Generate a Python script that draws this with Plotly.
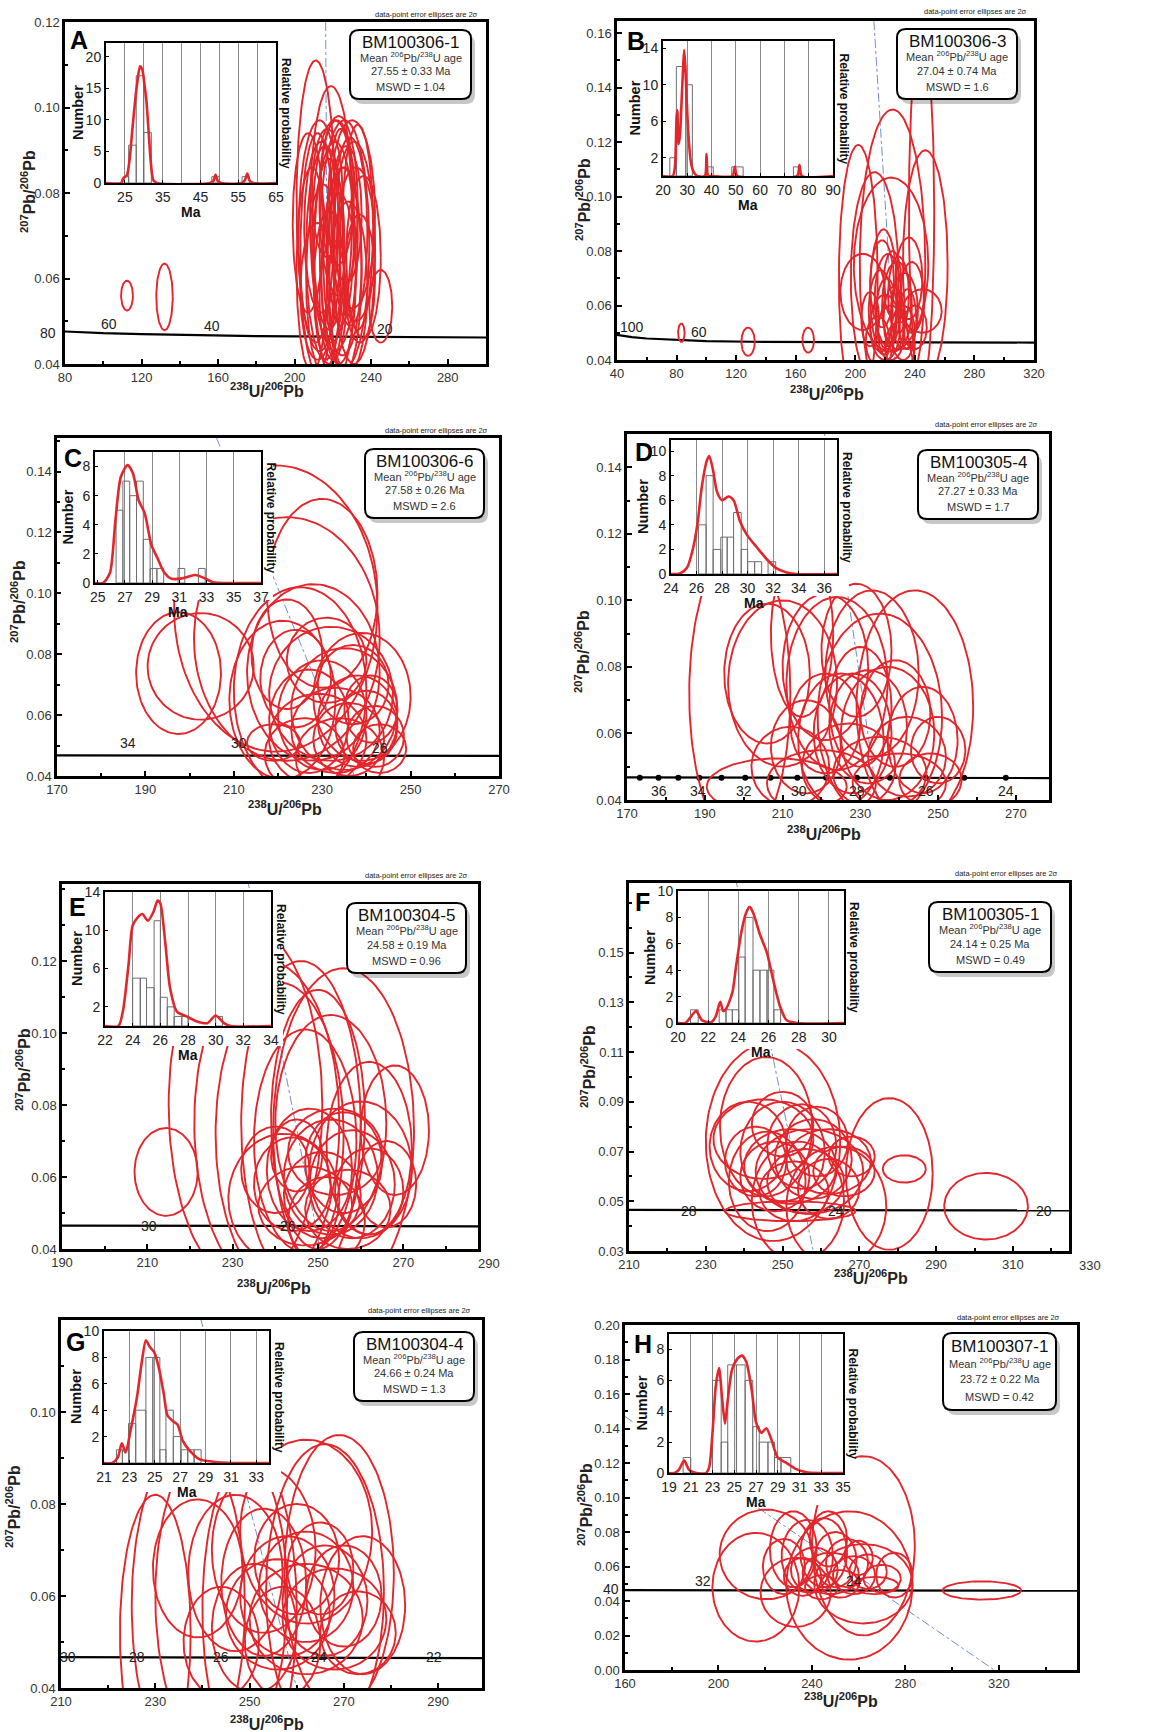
import numpy as np
import plotly.graph_objects as go

W, H = 1159, 1732

# ================= DATA =================
# ---- Panel A : BM100306-1 ----
A_cx = [211, 219, 213, 221, 226, 216, 231, 225, 232, 209, 223, 218, 228, 214, 222, 227, 212, 234, 220, 224, 217, 230, 245, 207, 236, 218, 226, 221, 215, 229, 223, 212, 233, 112.4, 132]
A_cy = [0.078, 0.075, 0.070, 0.070, 0.068, 0.066, 0.066, 0.064, 0.068, 0.062, 0.060, 0.058, 0.058, 0.072, 0.080, 0.075, 0.057, 0.060, 0.055, 0.072, 0.080, 0.075, 0.0535, 0.073, 0.065, 0.068, 0.062, 0.064, 0.060, 0.071, 0.077, 0.066, 0.072, 0.0560, 0.0557]
A_rx = [10, 11, 11, 12, 13, 10, 11, 10, 10, 8, 9, 8, 10, 9, 9, 8, 9, 8, 7, 7, 8, 12, 6, 8, 9, 8, 9, 11, 9, 9, 10, 9, 8, 3.1, 4.3]
A_ry = [0.033, 0.030, 0.027, 0.027, 0.029, 0.025, 0.026, 0.022, 0.018, 0.024, 0.020, 0.018, 0.020, 0.020, 0.017, 0.016, 0.016, 0.015, 0.014, 0.023, 0.015, 0.022, 0.0085, 0.021, 0.019, 0.020, 0.024, 0.028, 0.022, 0.022, 0.021, 0.028, 0.024, 0.0035, 0.0078]
A_conc_x = [80, 100, 120, 150, 180, 220, 260, 300]
A_conc_y = [0.0476, 0.0472, 0.0470, 0.0467, 0.0465, 0.0464, 0.0463, 0.0462]
A_age_lbl = ["60", "40", "20"]
A_age_x = [103.2, 156.7, 247]
A_age_y = [0.0493, 0.0489, 0.0483]
A_ref_x = [216.2, 217.2]
A_ref_y = [0.12, 0.04]
A_bin_lo = [24.8, 26, 28, 30, 48, 56]
A_bin_hi = [26, 28, 30, 32, 50, 58]
A_bin_n = [1, 6, 17, 8, 1, 1]
A_pdf_x = [20, 24, 24.6, 25.5, 26.3, 26.9, 27.7, 28.3, 29.0, 29.6, 30.1, 30.7, 31.3, 31.9, 32.5, 33.5, 47.5, 48.4, 49.0, 49.6, 50.5, 56.0, 56.8, 57.4, 58.0, 59.0, 65]
A_pdf_y = [0, 0, 0.8, 1.2, 4, 8, 13, 16, 18.5, 18, 16, 13, 8, 3, 0.5, 0, 0, 0.3, 1.3, 0.3, 0, 0, 0.5, 1.5, 0.4, 0, 0]

# ---- Panel B : BM100306-3 ----
B_cx = [83.2, 128, 168.4, 225, 202, 247, 244.5, 213, 224, 219, 205, 245, 222, 228, 233, 217, 238, 226, 220, 232, 240, 215, 225, 230, 210, 236, 221, 229, 235, 218, 224]
B_cy = [0.050, 0.0467, 0.0473, 0.075, 0.070, 0.075, 0.095, 0.070, 0.075, 0.065, 0.065, 0.058, 0.062, 0.060, 0.058, 0.058, 0.063, 0.055, 0.052, 0.050, 0.052, 0.047, 0.068, 0.045, 0.055, 0.070, 0.057, 0.064, 0.055, 0.068, 0.050]
B_rx = [2.2, 4.5, 3.9, 22, 13, 15, 8.5, 16, 25, 9, 15, 13, 9, 10, 9, 8, 8, 7, 10, 8, 8, 8, 6, 10, 6, 9, 7, 7, 6, 8, 9]
B_ry = [0.0034, 0.0052, 0.0046, 0.057, 0.049, 0.042, 0.065, 0.039, 0.032, 0.023, 0.014, 0.008, 0.017, 0.016, 0.014, 0.015, 0.013, 0.012, 0.012, 0.010, 0.008, 0.009, 0.012, 0.009, 0.010, 0.015, 0.013, 0.014, 0.011, 0.016, 0.010]
B_conc_x = [40, 50, 60, 80, 100, 130, 160, 200, 250, 320]
B_conc_y = [0.0492, 0.0484, 0.0479, 0.0473, 0.0469, 0.0467, 0.0466, 0.0465, 0.0465, 0.0464]
B_age_lbl = ["100", "60"]
B_age_x = [50.1, 94.9]
B_age_y = [0.0522, 0.0504]
B_ref_x = [212.5, 226.6]
B_ref_y = [0.1645, 0.04]
B_bin_lo = [22.8, 25.5, 29.4, 38.0, 48.3, 73.7]
B_bin_hi = [25.5, 29.4, 32.1, 40.7, 53.0, 76.4]
B_bin_n = [2, 12, 10, 1, 1, 1]
B_pdf_x = [20, 24, 24.9, 25.6, 25.9, 26.4, 27.0, 27.7, 28.3, 28.7, 29.2, 29.8, 30.6, 31.5, 32.5, 34, 37.2, 37.9, 38.6, 40, 48.6, 49.6, 50.6, 75.2, 76.2, 77.2, 90]
B_pdf_y = [0, 0, 1.0, 6.5, 7.2, 3.5, 4.5, 8.5, 12, 13.8, 12, 8, 4, 1.5, 0.5, 0, 0, 2.4, 0, 0, 0, 1.0, 0, 0, 1.2, 0, 0]

# ---- Panel C : BM100306-6 ----
C_cx = [197.5, 202.5, 219.5, 222, 230, 228, 225, 221, 232, 235, 230, 238, 227, 233, 240, 236, 229, 242, 219, 224, 231, 237, 241, 243, 234, 226, 239, 222]
C_cy = [0.0738, 0.0760, 0.095, 0.085, 0.100, 0.074, 0.068, 0.065, 0.067, 0.062, 0.060, 0.058, 0.058, 0.055, 0.056, 0.052, 0.052, 0.053, 0.051, 0.072, 0.078, 0.070, 0.062, 0.049, 0.046, 0.047, 0.066, 0.080]
C_rx = [9.6, 12, 23, 21, 12.5, 15, 15, 12, 14, 12, 10, 9, 9, 10, 7, 8, 11, 6.5, 6, 8, 9, 8, 6, 6, 10, 9, 11, 8]
C_ry = [0.020, 0.0175, 0.047, 0.040, 0.031, 0.029, 0.034, 0.026, 0.022, 0.020, 0.018, 0.015, 0.017, 0.014, 0.012, 0.012, 0.015, 0.010, 0.006, 0.016, 0.014, 0.013, 0.011, 0.008, 0.013, 0.012, 0.021, 0.018]
C_conc_x = [170, 220, 270]
C_conc_y = [0.0468, 0.0467, 0.0466]
C_age_lbl = ["34", "30", "26"]
C_age_x = [186.1, 211.2, 243]
C_age_y = [0.051, 0.051, 0.0493]
C_ref_x = [206.1, 237.3]
C_ref_y = [0.151, 0.04]
C_bin_lo = [26.35, 26.85, 27.35, 27.85, 28.35, 28.85, 29.35, 30.9, 32.4]
C_bin_hi = [26.85, 27.35, 27.85, 28.35, 28.85, 29.35, 29.85, 31.4, 32.9]
C_bin_n = [5, 7, 6, 7, 3, 1, 1, 1, 1]
C_pdf_x = [24.8, 25.4, 25.9, 26.3, 26.7, 27.2, 27.6, 28.0, 28.45, 28.95, 29.4, 29.9, 30.4, 31.1, 31.7, 32.2, 32.8, 33.5, 34.5, 37]
C_pdf_y = [0, 0, 0.7, 4.3, 7.3, 8.1, 7.5, 5.7, 4.8, 2.6, 1.7, 0.7, 0.3, 0.3, 0.45, 0.55, 0.35, 0.05, 0, 0]

# ---- Panel D : BM100305-4 ----
D_cx = [206, 210, 221, 224, 233, 244, 235, 237, 232, 228, 225, 221, 230, 239, 246, 242, 250, 216, 212, 227, 235, 220, 240, 248, 199, 208.5, 229, 215]
D_cy = [0.078, 0.075, 0.080, 0.075, 0.078, 0.068, 0.065, 0.060, 0.062, 0.060, 0.058, 0.063, 0.068, 0.066, 0.058, 0.053, 0.055, 0.056, 0.050, 0.050, 0.048, 0.045, 0.045, 0.046, 0.072, 0.044, 0.085, 0.090]
D_rx = [11, 14, 11, 13, 12, 15, 16, 12, 10, 10, 11, 9, 8, 9, 9, 10, 7, 9, 10, 12, 12, 14, 12, 8, 13, 18, 9, 8]
D_ry = [0.021, 0.025, 0.022, 0.026, 0.025, 0.035, 0.031, 0.020, 0.017, 0.018, 0.020, 0.015, 0.018, 0.016, 0.016, 0.012, 0.010, 0.014, 0.012, 0.013, 0.011, 0.010, 0.009, 0.008, 0.045, 0.0085, 0.020, 0.025]
D_conc_x = [170, 220, 278.5]
D_conc_y = [0.0468, 0.0467, 0.0466]
D_dot_x = [173.3, 178.1, 183.2, 188.6, 194.3, 200.4, 206.9, 213.8, 221.2, 229.1, 237.6, 246.8, 256.7, 267.4]
D_dot_y = [0.0467] * 14
D_age_lbl = ["36", "34", "32", "30", "28", "26", "24"]
D_age_x = [178.2, 188.3, 200, 214.2, 229.2, 246.8, 267.4]
D_age_y = [0.0427] * 7
D_ref_x = [220.8, 234.4]
D_ref_y = [0.15, 0.04]
D_bin_lo = [26.15, 26.75, 27.3, 27.9, 28.4, 28.9, 29.5, 30.0, 30.55, 31.6]
D_bin_hi = [26.75, 27.3, 27.9, 28.4, 28.9, 29.5, 30.0, 30.55, 31.1, 32.2]
D_bin_n = [4, 8, 2, 3, 3, 5, 2, 1, 1, 1]
D_pdf_x = [24, 24.7, 25.25, 25.75, 26.1, 26.4, 26.8, 27.0, 27.3, 27.6, 28.0, 28.5, 28.9, 29.4, 30.0, 30.7, 31.5, 32.2, 33.0, 33.8, 37]
D_pdf_y = [0, 0.05, 0.5, 2.2, 4.3, 7, 9.2, 9.6, 8.4, 6.7, 6.0, 6.3, 6.0, 4.3, 3.1, 2.2, 1.2, 0.5, 0.15, 0, 0]

# ---- Panel E : BM100304-5 ----
E_cx = [214.4, 233, 238, 241, 256, 250, 253, 247, 262, 268, 248, 253, 258, 244, 251, 262, 240, 256, 266, 247, 257, 254, 245, 260, 242, 252, 246]
E_cy = [0.0614, 0.080, 0.075, 0.072, 0.073, 0.076, 0.075, 0.070, 0.068, 0.073, 0.062, 0.060, 0.058, 0.058, 0.055, 0.056, 0.062, 0.064, 0.058, 0.052, 0.051, 0.067, 0.066, 0.062, 0.054, 0.048, 0.075]
E_rx = [7.4, 18, 17, 15, 16.5, 11, 13, 12, 10, 8, 10, 11, 10, 9, 9, 8, 8, 9, 7, 11, 10, 11, 6, 12, 13, 9, 14]
E_ry = [0.0122, 0.050, 0.045, 0.042, 0.045, 0.036, 0.030, 0.031, 0.024, 0.018, 0.017, 0.016, 0.015, 0.013, 0.012, 0.012, 0.012, 0.014, 0.012, 0.011, 0.011, 0.012, 0.010, 0.019, 0.018, 0.012, 0.045]
E_conc_x = [190, 240, 287.5]
E_conc_y = [0.0465, 0.0464, 0.0463]
E_age_lbl = ["30", "26"]
E_age_x = [210.5, 242.9]
E_age_y = [0.0465, 0.0465]
E_ref_x = [233.7, 250.5]
E_ref_y = [0.1414, 0.04]
E_bin_lo = [24.0, 24.55, 25.0, 25.55, 26.0, 26.5, 27.0, 27.55, 30.0]
E_bin_hi = [24.55, 25.0, 25.55, 26.0, 26.5, 27.0, 27.55, 28.0, 30.5]
E_bin_n = [5, 5, 4, 11, 3, 2, 1, 1, 1]
E_pdf_x = [22, 22.97, 23.3, 23.7, 24.0, 24.4, 24.7, 25.1, 25.5, 25.8, 26.0, 26.35, 26.7, 27.2, 27.9, 28.6, 29.4, 30.0, 30.6, 31.1, 34]
E_pdf_y = [0, 0, 1.6, 6.4, 10.5, 11.4, 11.7, 11, 11.9, 13.1, 12.8, 8.8, 4.0, 1.5, 1.0, 0.5, 0.3, 1.1, 0.3, 0, 0]

# ---- Panel F : BM100305-1 ----
F_cx = [303, 281.7, 252, 247.5, 277.8, 245.7, 241, 245, 250, 255, 258, 262, 266, 252, 248, 256, 262, 243, 259, 253, 268, 246, 257, 264, 254, 250]
F_cy = [0.048, 0.063, 0.046, 0.074, 0.061, 0.080, 0.072, 0.075, 0.070, 0.072, 0.067, 0.066, 0.062, 0.064, 0.060, 0.058, 0.055, 0.066, 0.074, 0.054, 0.068, 0.058, 0.062, 0.048, 0.050, 0.081]
F_rx = [10.9, 5.6, 17, 17.5, 11.3, 12, 10, 13, 11, 9, 10, 11, 8, 12, 9, 10, 8, 8, 8, 9, 6, 10, 14, 13, 12, 8]
F_ry = [0.0134, 0.0055, 0.004, 0.040, 0.0305, 0.028, 0.018, 0.016, 0.020, 0.017, 0.016, 0.013, 0.010, 0.015, 0.014, 0.013, 0.012, 0.014, 0.014, 0.012, 0.008, 0.020, 0.017, 0.024, 0.024, 0.013]
F_conc_x = [210, 270, 324.6]
F_conc_y = [0.0465, 0.0464, 0.0463]
F_age_lbl = ["28", "24", "20"]
F_age_x = [225.7, 263.9, 318]
F_age_y = [0.046, 0.046, 0.046]
F_ref_x = [238, 258]
F_ref_y = [0.178, 0.03]
F_bin_lo = [20.83, 22.73, 23.18, 23.6, 24.03, 24.45, 24.97, 25.43, 25.9, 26.35]
F_bin_hi = [21.34, 23.18, 23.6, 24.03, 24.45, 24.97, 25.43, 25.9, 26.35, 26.8]
F_bin_n = [1, 1, 1, 1, 5, 8, 4, 4, 4, 1]
F_pdf_x = [20, 20.5, 20.8, 21.2, 21.6, 22.2, 22.5, 22.8, 23.0, 23.2, 23.6, 23.85, 24.2, 24.5, 24.75, 25.0, 25.4, 25.9, 26.3, 26.75, 27.2, 27.9, 31]
F_pdf_y = [0, 0, 0.4, 0.9, 0.2, 0.05, 0.5, 1.6, 0.9, 1.1, 2.3, 4.3, 6.9, 8.3, 8.8, 8.3, 6.8, 5.3, 3.3, 1.3, 0.2, 0, 0]

# ---- Panel G : BM100304-4 ----
G_cx = [269, 266, 237, 244, 250, 230, 239, 247, 253, 258, 262, 266, 270, 256, 262, 268, 251, 273, 260, 265, 257, 244, 274, 253, 262]
G_cy = [0.065, 0.061, 0.058, 0.060, 0.057, 0.052, 0.066, 0.065, 0.063, 0.060, 0.062, 0.059, 0.060, 0.056, 0.055, 0.055, 0.053, 0.052, 0.068, 0.066, 0.050, 0.050, 0.058, 0.070, 0.074]
G_rx = [11.6, 12.5, 12, 14, 10, 7.5, 9.5, 10, 9, 10, 10, 9, 8, 11, 12, 11, 9, 8, 9, 7, 8, 8, 9, 11, 14]
G_ry = [0.030, 0.032, 0.036, 0.036, 0.034, 0.030, 0.015, 0.017, 0.016, 0.013, 0.012, 0.012, 0.011, 0.012, 0.012, 0.011, 0.014, 0.009, 0.012, 0.010, 0.012, 0.012, 0.015, 0.018, 0.020]
G_conc_x = [210, 250, 299.3]
G_conc_y = [0.0467, 0.0466, 0.0465]
G_age_lbl = ["30", "28", "26", "24", "22"]
G_age_x = [211.4, 226.2, 244, 264.7, 289.1]
G_age_y = [0.0467] * 5
G_ref_x = [239.7, 260]
G_ref_y = [0.12, 0.04]
G_bin_lo = [21.98, 22.45, 22.93, 23.5, 24.3, 24.85, 25.4, 25.88, 26.46, 27.07, 27.6, 28.1]
G_bin_hi = [22.45, 22.93, 23.5, 24.3, 24.85, 25.4, 25.88, 26.46, 27.07, 27.6, 28.1, 28.65]
G_bin_n = [1, 1, 3, 4, 8, 8, 1, 4, 2, 1, 1, 1]
G_pdf_x = [21, 21.65, 22.1, 22.4, 22.7, 23.1, 23.6, 24.0, 24.3, 24.6, 24.95, 25.3, 25.7, 26.0, 26.4, 26.8, 27.2, 27.7, 28.5, 29.6, 31.2, 34]
G_pdf_y = [0, 0, 0.45, 1.5, 0.8, 2.5, 5, 7.8, 9.3, 8.8, 8.4, 7.3, 5.3, 3.6, 3.2, 2.9, 1.7, 1.0, 0.3, 0.1, 0, 0]

# ---- Panel H : BM100307-1 ----
H_cx = [312.7, 256, 262, 216, 220.5, 232, 238, 245, 250, 255, 241, 248, 258, 264, 270, 275.3, 262, 236, 252, 228, 247, 260, 267, 244, 233]
H_cy = [0.0461, 0.049, 0.072, 0.048, 0.067, 0.070, 0.066, 0.068, 0.064, 0.062, 0.058, 0.056, 0.055, 0.057, 0.053, 0.055, 0.050, 0.054, 0.050, 0.060, 0.076, 0.065, 0.049, 0.048, 0.045]
H_rx = [16.8, 27, 22, 18.6, 20, 10, 11, 10, 9, 9, 10, 12, 9, 8, 8, 7.8, 21, 8, 8, 9, 8, 6, 10, 7, 15]
H_ry = [0.0053, 0.043, 0.052, 0.0315, 0.026, 0.022, 0.021, 0.020, 0.016, 0.014, 0.013, 0.012, 0.011, 0.010, 0.008, 0.013, 0.023, 0.011, 0.008, 0.016, 0.016, 0.010, 0.005, 0.007, 0.020]
H_conc_x = [160, 250, 353.4]
H_conc_y = [0.0463, 0.0461, 0.0460]
H_age_lbl = ["32", "24"]
H_age_x = [193.5, 257.8]
H_age_y = [0.0517, 0.0517]
H_ref_x = [160, 318]
H_ref_y = [0.147, 0.0]
H_bin_lo = [20.3, 23.0, 23.8, 24.4, 25.2, 26.0, 26.7, 27.3, 28.1, 28.7, 29.3]
H_bin_hi = [21.0, 23.8, 24.4, 25.2, 26.0, 26.7, 27.3, 28.1, 28.7, 29.3, 30.2]
H_bin_n = [1, 6, 2, 7, 7, 6, 3, 2, 2, 1, 1]
H_pdf_x = [19, 19.5, 19.9, 20.4, 20.85, 21.5, 22.4, 22.7, 23.0, 23.3, 23.6, 23.9, 24.15, 24.4, 24.8, 25.3, 25.7, 26.1, 26.6, 27.0, 27.5, 27.95, 28.4, 29.0, 29.8, 30.7, 31.65, 32.9, 35]
H_pdf_y = [0, 0, 0.2, 0.8, 0.2, 0, 0, 0.4, 2.6, 5.6, 6.8, 4.7, 3.2, 4.7, 6.7, 7.4, 7.6, 7.2, 5.4, 3.3, 2.6, 2.9, 2.2, 1.0, 0.65, 0.25, 0.05, 0, 0]

# ---- Tick labels of the main y axes ----
A_ytick = [0.04, 0.06, 0.08, 0.10, 0.12]
B_ytick = [0.04, 0.06, 0.08, 0.10, 0.12, 0.14, 0.16]
C_ytick = [0.04, 0.06, 0.08, 0.10, 0.12, 0.14]
D_ytick = [0.04, 0.06, 0.08, 0.10, 0.12, 0.14]
E_ytick = [0.04, 0.06, 0.08, 0.10, 0.12]
F_ytick = [0.03, 0.05, 0.07, 0.09, 0.11, 0.13, 0.15]
G_ytick = [0.04, 0.06, 0.08, 0.10]
H_ytick = [0.00, 0.02, 0.04, 0.06, 0.08, 0.10, 0.12, 0.14, 0.16, 0.18, 0.20]
YTICKS = [A_ytick, B_ytick, C_ytick, D_ytick, E_ytick, F_ytick, G_ytick, H_ytick]

# ---- Text ----
SAMPLES = ["BM100306-1", "BM100306-3", "BM100306-6", "BM100305-4", "BM100304-5", "BM100305-1", "BM100304-4", "BM100307-1"]
AGES = ["27.55 ± 0.33 Ma", "27.04 ± 0.74 Ma", "27.58 ± 0.26 Ma", "27.27 ± 0.33 Ma", "24.58 ± 0.19 Ma", "24.14 ± 0.25 Ma", "24.66 ± 0.24 Ma", "23.72 ± 0.22 Ma"]
MSWD = ["MSWD = 1.04", "MSWD = 1.6", "MSWD = 2.6", "MSWD = 1.7", "MSWD = 0.96", "MSWD = 0.49", "MSWD = 1.3", "MSWD = 0.42"]
LETTERS = ["A", "B", "C", "D", "E", "F", "G", "H"]
X_TITLE = "<b><sup>238</sup>U/<sup>206</sup>Pb</b>"
Y_TITLE = "<b><sup>207</sup>Pb/<sup>206</sup>Pb</b>"

# ================= LAYOUT GEOMETRY (pixels) =================
GEO = [
    dict(main=(65, 22, 486, 364), inset=(106, 43, 276, 183), cb=38, cr=14, box=(350, 30, 471, 99), letter=(68, 40), note=(480, 14), xt=(267, 390), yt=(28, 192)),
    dict(main=(617, 21, 1034, 360), inset=(663, 41, 833, 176), cb=40, cr=4, box=(897, 29, 1017, 99), letter=(625, 41), note=(1029, 11), xt=(827, 393), yt=(583, 200)),
    dict(main=(57, 438, 499, 776), inset=(95, 452, 261, 583), cb=17, cr=12, box=(365, 449, 484, 518), letter=(62, 458), note=(490, 430), xt=(285, 808), yt=(18, 602)),
    dict(main=(627, 434, 1049, 800), inset=(671, 440, 837, 574), cb=22, cr=12, box=(918, 450, 1038, 519), letter=(633, 452), note=(1040, 424), xt=(824, 833), yt=(582, 652)),
    dict(main=(62, 884, 478, 1249), inset=(105, 892, 271, 1026), cb=20, cr=12, box=(347, 903, 466, 973), letter=(67, 907), note=(470, 875), xt=(274, 1287), yt=(23, 1070)),
    dict(main=(629, 883, 1069, 1251), inset=(678, 891, 844, 1023), cb=26, cr=12, box=(929, 902, 1051, 972), letter=(633, 902), note=(1060, 873), xt=(871, 1277), yt=(588, 1067)),
    dict(main=(61, 1320, 482, 1688), inset=(104, 1331, 269, 1463), cb=29, cr=12, box=(354, 1332, 474, 1401), letter=(64, 1342), note=(473, 1310), xt=(267, 1723), yt=(13, 1507)),
    dict(main=(625, 1325, 1077, 1670), inset=(669, 1334, 843, 1473), cb=32, cr=12, box=(943, 1333, 1056, 1410), letter=(632, 1344), note=(1062, 1317), xt=(841, 1700), yt=(585, 1505)),
]

AXES = [
    dict(xr=[80, 300], x0=80, dx=40, mx=20, yr=[0.04, 0.12], y0=0.04, my=0.01,
         ixr=[20, 65], ixt=[25, 35, 45, 55, 65], igrid=[25, 30, 35, 40, 45, 50, 55, 60], iyr=[0, 22.2], iyt=[0, 5, 10, 15, 20]),
    dict(xr=[40, 320], x0=40, dx=40, mx=20, yr=[0.04, 0.1645], y0=0.04, my=0.01,
         ixr=[20, 90], ixt=[20, 30, 40, 50, 60, 70, 80, 90], igrid=[30, 40, 50, 60, 70, 80], iyr=[0, 14.8], iyt=[2, 6, 10, 14]),
    dict(xr=[170, 270], x0=170, dx=20, mx=10, yr=[0.04, 0.151], y0=0.04, my=0.01,
         ixr=[24.8, 37], ixt=[25, 27, 29, 31, 33, 35, 37], igrid=[27, 29, 31, 33, 35], iyr=[0, 9], iyt=[0, 2, 4, 6, 8]),
    dict(xr=[170, 278.5], x0=170, dx=20, mx=10, yr=[0.04, 0.15], y0=0.04, my=0.01,
         ixr=[24, 37], ixt=[24, 26, 28, 30, 32, 34, 36], igrid=[26, 28, 30, 32, 34, 36], iyr=[0, 10.9], iyt=[0, 2, 4, 6, 8, 10]),
    dict(xr=[190, 287.5], x0=190, dx=20, mx=10, yr=[0.04, 0.1414], y0=0.04, my=0.01,
         ixr=[22, 34], ixt=[22, 24, 26, 28, 30, 32, 34], igrid=[24, 26, 28, 30, 32], iyr=[0, 14], iyt=[2, 6, 10, 14]),
    dict(xr=[210, 324.6], x0=210, dx=20, mx=10, yr=[0.03, 0.178], y0=0.03, my=0.01,
         ixr=[20, 31], ixt=[20, 22, 24, 26, 28, 30], igrid=[22, 24, 26, 28, 30], iyr=[0, 10], iyt=[0, 2, 4, 6, 8, 10]),
    dict(xr=[210, 299.3], x0=210, dx=20, mx=10, yr=[0.04, 0.12], y0=0.04, my=0.01,
         ixr=[21, 34], ixt=[21, 23, 25, 27, 29, 31, 33], igrid=[23, 25, 27, 29, 31, 33], iyr=[0, 10], iyt=[2, 4, 6, 8, 10]),
    dict(xr=[160, 353.4], x0=160, dx=40, mx=20, yr=[0.0, 0.20], y0=0.0, my=0.01,
         ixr=[19, 35], ixt=[19, 21, 23, 25, 27, 29, 31, 33, 35], igrid=[21, 23, 25, 27, 29, 31, 33], iyr=[0, 9], iyt=[0, 2, 4, 6, 8]),
]

PANEL_DATA = [
    (A_cx, A_cy, A_rx, A_ry, A_conc_x, A_conc_y, A_age_lbl, A_age_x, A_age_y, A_ref_x, A_ref_y, A_bin_lo, A_bin_hi, A_bin_n, A_pdf_x, A_pdf_y),
    (B_cx, B_cy, B_rx, B_ry, B_conc_x, B_conc_y, B_age_lbl, B_age_x, B_age_y, B_ref_x, B_ref_y, B_bin_lo, B_bin_hi, B_bin_n, B_pdf_x, B_pdf_y),
    (C_cx, C_cy, C_rx, C_ry, C_conc_x, C_conc_y, C_age_lbl, C_age_x, C_age_y, C_ref_x, C_ref_y, C_bin_lo, C_bin_hi, C_bin_n, C_pdf_x, C_pdf_y),
    (D_cx, D_cy, D_rx, D_ry, D_conc_x, D_conc_y, D_age_lbl, D_age_x, D_age_y, D_ref_x, D_ref_y, D_bin_lo, D_bin_hi, D_bin_n, D_pdf_x, D_pdf_y),
    (E_cx, E_cy, E_rx, E_ry, E_conc_x, E_conc_y, E_age_lbl, E_age_x, E_age_y, E_ref_x, E_ref_y, E_bin_lo, E_bin_hi, E_bin_n, E_pdf_x, E_pdf_y),
    (F_cx, F_cy, F_rx, F_ry, F_conc_x, F_conc_y, F_age_lbl, F_age_x, F_age_y, F_ref_x, F_ref_y, F_bin_lo, F_bin_hi, F_bin_n, F_pdf_x, F_pdf_y),
    (G_cx, G_cy, G_rx, G_ry, G_conc_x, G_conc_y, G_age_lbl, G_age_x, G_age_y, G_ref_x, G_ref_y, G_bin_lo, G_bin_hi, G_bin_n, G_pdf_x, G_pdf_y),
    (H_cx, H_cy, H_rx, H_ry, H_conc_x, H_conc_y, H_age_lbl, H_age_x, H_age_y, H_ref_x, H_ref_y, H_bin_lo, H_bin_hi, H_bin_n, H_pdf_x, H_pdf_y),
]

# ================= STYLE =================
RED = "#e3262b"
BLUE = "#6f8fd8"
FONT = "Arial, Liberation Sans, sans-serif"
TXT = "#2a2a2a"

theta = np.linspace(0, 2 * np.pi, 121)


def ellipse_path(cx, cy, rx, ry):
    xs, ys = [], []
    for a, b, c, d in zip(cx, cy, rx, ry):
        xs += list(a + c * np.cos(theta)) + [None]
        ys += list(b + d * np.sin(theta)) + [None]
    return xs, ys


def px_dom_x(l, r):
    return [l / W, r / W]


def px_dom_y(t, b):
    return [1 - b / H, 1 - t / H]


def ax_key(kind, n):
    return kind + ("axis" if n == 1 else "axis%d" % n)


def ax_ref(kind, n):
    return kind + ("" if n == 1 else str(n))


def paper_text(text, px, py, size, color="#222", angle=0, xanchor="center", yanchor="middle"):
    return dict(text=text, x=px / W, y=1 - py / H, xref="paper", yref="paper", showarrow=False,
                xanchor=xanchor, yanchor=yanchor, textangle=angle,
                font=dict(size=size, color=color, family=FONT))


fig = go.Figure()
layout = dict(width=W, height=H, margin=dict(l=0, r=0, t=0, b=0), paper_bgcolor="white",
              plot_bgcolor="white", showlegend=False, template="none", font=dict(family=FONT, color=TXT))
annotations = []
shapes = []

for i in range(8):
    g = GEO[i]
    a = AXES[i]
    (cx, cy, rx, ry, conc_x, conc_y, age_lbl, age_x, age_y, ref_x, ref_y,
     bin_lo, bin_hi, bin_n, pdf_x, pdf_y) = PANEL_DATA[i]
    nm, nc, ni = 3 * i + 1, 3 * i + 2, 3 * i + 3
    xm, ym = ax_ref("x", nm), ax_ref("y", nm)
    xc, yc = ax_ref("x", nc), ax_ref("y", nc)
    xi, yi = ax_ref("x", ni), ax_ref("y", ni)
    l, t, r, b = g["main"]
    il, it, ir, ib = g["inset"]

    # ---- main axes ----
    layout[ax_key("x", nm)] = dict(
        domain=px_dom_x(l, r), anchor=ym, range=a["xr"], tick0=a["x0"], dtick=a["dx"],
        ticks="inside", ticklen=5, tickwidth=1.5, tickcolor="black",
        minor=dict(ticks="inside", ticklen=3, dtick=a["mx"], tickcolor="black"),
        showline=True, mirror=True, linewidth=2.5, linecolor="black", showgrid=False, zeroline=False,
        tickfont=dict(size=13, color="#333", family=FONT))
    layout[ax_key("y", nm)] = dict(
        domain=px_dom_y(t, b), anchor=xm, range=a["yr"], tickvals=YTICKS[i], tickformat=".2f",
        ticks="inside", ticklen=5, tickwidth=1.5, tickcolor="black",
        minor=dict(ticks="inside", ticklen=3, tick0=a["y0"], dtick=a["my"], tickcolor="black"),
        showline=True, mirror=True, linewidth=2.5, linecolor="black", showgrid=False, zeroline=False,
        tickfont=dict(size=13, color="#333", family=FONT))
    annotations.append(paper_text(X_TITLE, g["xt"][0], g["xt"][1], 16, "#222"))
    annotations.append(paper_text(Y_TITLE, g["yt"][0], g["yt"][1], 16, "#222", angle=-90))

    # concordia
    fig.add_trace(go.Scatter(x=conc_x, y=conc_y, mode="lines", line=dict(color="black", width=2.2),
                             xaxis=xm, yaxis=ym, hoverinfo="skip"))
    if i == 3:
        fig.add_trace(go.Scatter(x=D_dot_x, y=D_dot_y, mode="markers", marker=dict(color="black", size=6),
                                 xaxis=xm, yaxis=ym, hoverinfo="skip"))
    # reference (regression) line
    fig.add_trace(go.Scatter(x=ref_x, y=ref_y, mode="lines", line=dict(color=BLUE, width=1, dash="dashdot"),
                             xaxis=xm, yaxis=ym, hoverinfo="skip"))
    # error ellipses
    ex, ey = ellipse_path(cx, cy, rx, ry)
    fig.add_trace(go.Scatter(x=ex, y=ey, mode="lines", line=dict(color=RED, width=1.9),
                             xaxis=xm, yaxis=ym, hoverinfo="skip", connectgaps=False))
    # concordia age labels
    for s, ax_, ay_ in zip(age_lbl, age_x, age_y):
        annotations.append(dict(text=s, x=ax_, y=ay_, xref=xm, yref=ym, showarrow=False,
                                xanchor="center", yanchor="middle",
                                font=dict(size=14, color="#222", family=FONT)))

    # ---- cover (white area behind inset and its labels) ----
    layout[ax_key("x", nc)] = dict(domain=px_dom_x(il - 34, ir + g["cr"]), anchor=yc, visible=False, range=[0, 1])
    layout[ax_key("y", nc)] = dict(domain=px_dom_y(it - 4, ib + g["cb"]), anchor=xc, visible=False, range=[0, 1])
    fig.add_trace(go.Scatter(x=[None], y=[None], xaxis=xc, yaxis=yc, mode="lines", hoverinfo="skip"))

    # ---- inset ----
    layout[ax_key("x", ni)] = dict(
        domain=px_dom_x(il, ir), anchor=yi, range=a["ixr"], tickvals=a["ixt"],
        ticks="inside", ticklen=3, tickcolor="black",
        showline=True, mirror=True, linewidth=2, linecolor="black", showgrid=False, zeroline=False,
        minor=dict(tickvals=a["igrid"], showgrid=True, gridcolor="#8a8a8a", gridwidth=1, ticks=""),
        tickfont=dict(size=14, color="#222", family=FONT))
    layout[ax_key("y", ni)] = dict(
        domain=px_dom_y(it, ib), anchor=xi, range=a["iyr"], tickvals=a["iyt"],
        ticks="inside", ticklen=3, tickcolor="black",
        showline=True, mirror=True, linewidth=2, linecolor="black", showgrid=False, zeroline=False,
        tickfont=dict(size=14, color="#222", family=FONT))
    centers = [(lo + hi) / 2 for lo, hi in zip(bin_lo, bin_hi)]
    widths = [hi - lo for lo, hi in zip(bin_lo, bin_hi)]
    fig.add_trace(go.Bar(x=centers, y=bin_n, width=widths, marker=dict(color="rgba(255,255,255,0)",
                         line=dict(color="#6e6e6e", width=1)), xaxis=xi, yaxis=yi, hoverinfo="skip"))
    fig.add_trace(go.Scatter(x=pdf_x, y=pdf_y, mode="lines", line=dict(color=RED, width=2.6, shape="spline", smoothing=0.7),
                             xaxis=xi, yaxis=yi, hoverinfo="skip"))

    annotations.append(paper_text("<b>Number</b>", il - 28, (it + ib) / 2, 14.5, "#111", angle=-90))
    annotations.append(paper_text("<b>Ma</b>", (il + ir) / 2, ib + 29, 14, "#111"))
    annotations.append(paper_text("<b>Relative probability</b>", ir + 10, (it + ib) / 2, 12, "#111", angle=90))

    # ---- info box ----
    bl, bt, br, bb = g["box"]
    rad = 9

    def rpath(l_, t_, r_, b_):
        X = lambda p: p / W
        Y = lambda p: 1 - p / H
        return (f"M {X(l_+rad)},{Y(t_)} L {X(r_-rad)},{Y(t_)} Q {X(r_)},{Y(t_)} {X(r_)},{Y(t_+rad)} "
                f"L {X(r_)},{Y(b_-rad)} Q {X(r_)},{Y(b_)} {X(r_-rad)},{Y(b_)} L {X(l_+rad)},{Y(b_)} "
                f"Q {X(l_)},{Y(b_)} {X(l_)},{Y(b_-rad)} L {X(l_)},{Y(t_+rad)} Q {X(l_)},{Y(t_)} {X(l_+rad)},{Y(t_)} Z")

    shapes.append(dict(type="path", path=rpath(bl + 4, bt + 5, br + 4, bb + 5), xref="paper", yref="paper",
                       fillcolor="rgba(0,0,0,0.22)", line=dict(width=0), layer="above"))
    shapes.append(dict(type="path", path=rpath(bl, bt, br, bb), xref="paper", yref="paper",
                       fillcolor="white", line=dict(color="black", width=2), layer="above"))
    bh = bb - bt
    bxc = (bl + br) / 2
    annotations.append(paper_text(SAMPLES[i], bxc, bt + 0.18 * bh, 17, "#111"))
    annotations.append(paper_text("Mean <sup>206</sup>Pb/<sup>238</sup>U age", bxc, bt + 0.39 * bh, 11, "#333"))
    annotations.append(paper_text(AGES[i], bxc, bt + 0.60 * bh, 11, "#333"))
    annotations.append(paper_text(MSWD[i], bxc, bt + 0.83 * bh, 11, "#333"))

    # panel letter and note
    lx, ly = g["letter"]
    annotations.append(paper_text("<b>%s</b>" % LETTERS[i], lx, ly, 25, "black", xanchor="left"))
    nx, ny = g["note"]
    annotations.append(paper_text("data-point error ellipses are 2σ", nx, ny, 7.5, "#222", xanchor="right"))


# extra labels lying outside the frames
def data_to_px_x(i, v):
    l, t, r, b = GEO[i]["main"]
    x0, x1 = AXES[i]["xr"]
    return l + (v - x0) / (x1 - x0) * (r - l)


EXTRA_X_TICKS = [(4, "290", 290), (5, "330", 330)]
for i, s, v in EXTRA_X_TICKS:
    bpx = GEO[i]["main"][3]
    annotations.append(paper_text(s, data_to_px_x(i, v), bpx + 14, 13, "#333"))
annotations.append(paper_text("80", 48, 333, 14, "#222"))
annotations.append(paper_text("40", 611, 1589, 14, "#222"))

layout["annotations"] = annotations
layout["shapes"] = shapes
fig.update_layout(**layout)
fig.write_html("out.html")
